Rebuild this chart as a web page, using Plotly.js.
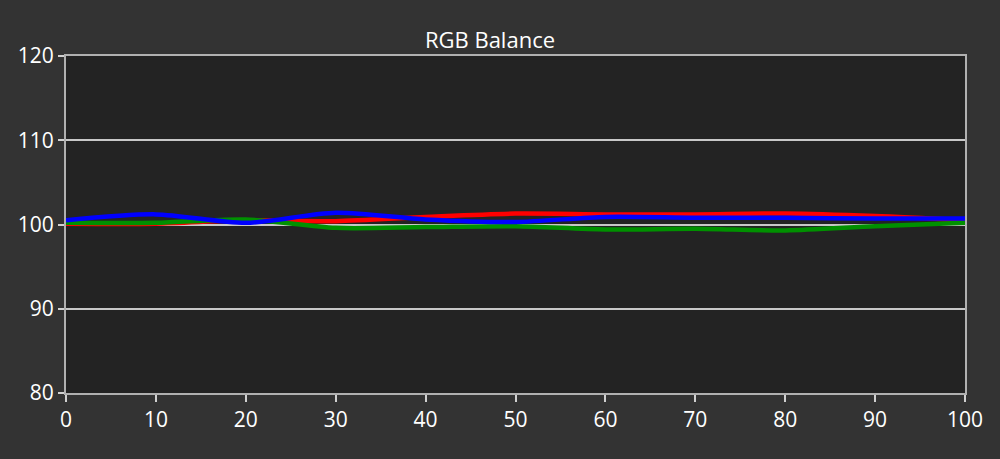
<!DOCTYPE html>
<html><head><meta charset="utf-8">
<script src="https://cdn.plot.ly/plotly-3.0.1.min.js"></script>
<style>html,body{margin:0;padding:0;background:#333333;}</style>
</head><body>
<div id="chart" style="width:1000px;height:459px;"></div>
<script>
const xLevels = [0, 10, 20, 30, 40, 50, 60, 70, 80, 90, 100];
const redValues   = [100.1, 100.1, 100.5, 100.4, 100.9, 101.3, 101.2, 101.2, 101.3, 101.0, 100.5];
const greenValues = [100.2, 100.2, 100.6, 99.6, 99.7, 99.8, 99.4, 99.5, 99.3, 99.8, 100.2];
const blueValues  = [100.5, 101.2, 100.2, 101.4, 100.6, 100.3, 100.9, 100.8, 100.8, 100.7, 100.7];
const xTicks = [0, 10, 20, 30, 40, 50, 60, 70, 80, 90, 100];
const yTicks = [80, 90, 100, 110, 120];

const mk = (y, c) => ({x: xLevels, y: y, type: 'scatter', mode: 'lines',
  line: {color: c, width: 4.5, shape: 'spline', smoothing: 0.8}, hoverinfo: 'skip'});

const data = [mk(redValues, '#ff0000'), mk(greenValues, '#009000'), mk(blueValues, '#0000ff')];

const tickFont = {family: 'Open Sans, Noto Sans, sans-serif', size: 21, color: '#ffffff'};
const layout = {
  width: 1000, height: 459,
  paper_bgcolor: '#333333', plot_bgcolor: '#232323',
  margin: {l: 66, r: 35, t: 56, b: 66},
  showlegend: false,
  title: {text: 'RGB Balance', x: 0.49, xanchor: 'center', y: 0.913, yanchor: 'middle',
    font: {family: 'Open Sans, Noto Sans, sans-serif', size: 22, color: '#ffffff'}},
  xaxis: {range: [0, 100], tickvals: xTicks, ticktext: xTicks.map(String), showgrid: false,
    zeroline: false, showline: true, linecolor: '#b0b0b0', linewidth: 2, mirror: true,
    ticks: 'outside', ticklen: 7, tickwidth: 2, tickcolor: '#d0d0d0', tickfont: tickFont, fixedrange: true},
  yaxis: {range: [80, 120], tickvals: yTicks, ticktext: yTicks.map(String), showgrid: true,
    gridcolor: '#c8c8c8', gridwidth: 2, zeroline: false, showline: true, linecolor: '#b0b0b0',
    linewidth: 2, mirror: true, ticks: 'outside', ticklen: 6, tickwidth: 2, tickcolor: '#d0d0d0',
    tickfont: tickFont, fixedrange: true}
};
Plotly.newPlot('chart', data, layout, {displayModeBar: false, staticPlot: true});
</script>
</body></html>
